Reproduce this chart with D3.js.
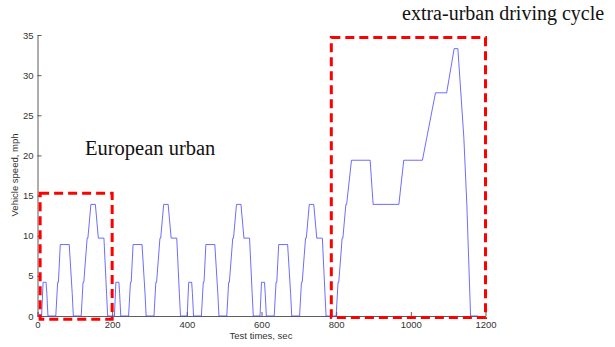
<!DOCTYPE html>
<html>
<head>
<meta charset="utf-8">
<script src="https://cdn.jsdelivr.net/npm/d3@7"></script>
<style>
  body { margin: 0; background: #fff; }
  svg { display: block; }
</style>
</head>
<body>
<svg id="chart" width="615" height="347"></svg>
<script>
// NEDC speed trace (breakpoints)
const times = [
  0, 11, 15, 23, 25, 28, 49, 54, 56, 61, 85, 93, 96, 117, 122, 124, 133, 135, 143, 155, 163, 176, 178, 185, 188, 195,
  206, 210, 218, 220, 223, 244, 249, 251, 256, 280, 288, 291, 312, 317, 319, 328, 330, 338, 350, 358, 371, 373, 380, 383, 390,
  401, 405, 413, 415, 418, 439, 444, 446, 451, 475, 483, 486, 507, 512, 514, 523, 525, 533, 545, 553, 566, 568, 575, 578, 585,
  596, 600, 608, 610, 613, 634, 639, 641, 646, 670, 678, 681, 702, 707, 709, 718, 720, 728, 740, 748, 761, 763, 770, 773, 780,
  800, 805, 807, 816, 818, 826, 828, 841, 891, 899, 968, 981, 1031, 1066, 1096, 1116, 1126, 1142, 1150, 1160, 1180
]
const speeds = [
  0, 0, 4.2, 4.2, 2.8, 0, 0, 4.2, 4.2, 8.9, 8.9, 2.8, 0, 0, 4.2, 4.2, 9.7, 9.7, 13.9, 13.9, 9.7, 9.7, 9.7, 2.8, 0, 0,
  0, 4.2, 4.2, 2.8, 0, 0, 4.2, 4.2, 8.9, 8.9, 2.8, 0, 0, 4.2, 4.2, 9.7, 9.7, 13.9, 13.9, 9.7, 9.7, 9.7, 2.8, 0, 0,
  0, 4.2, 4.2, 2.8, 0, 0, 4.2, 4.2, 8.9, 8.9, 2.8, 0, 0, 4.2, 4.2, 9.7, 9.7, 13.9, 13.9, 9.7, 9.7, 9.7, 2.8, 0, 0,
  0, 4.2, 4.2, 2.8, 0, 0, 4.2, 4.2, 8.9, 8.9, 2.8, 0, 0, 4.2, 4.2, 9.7, 9.7, 13.9, 13.9, 9.7, 9.7, 9.7, 2.8, 0, 0,
  0, 4.2, 4.2, 9.7, 9.7, 13.9, 13.9, 19.4, 19.4, 13.9, 13.9, 19.4, 19.4, 27.8, 27.8, 33.3, 33.3, 22.2, 13.9, 0, 0
]
const xTicks = [0, 200, 400, 600, 800, 1000, 1200]
const yTicks = [0, 5, 10, 15, 20, 25, 30, 35]
// annotation boxes in data units: [t0, t1, v0, v1]
const boxUrban = [7, 200, -0.4, 15.3]
const boxExtra = [787, 1200, -0.2, 34.7]

const svg = d3.select('#chart')
const x = d3.scaleLinear().domain([0, 1200]).range([37.5, 485.5])
const y = d3.scaleLinear().domain([0, 35]).range([316, 35])

const pts = times.map(function (t, i) { return [t, speeds[i]] })
const sans = 'Liberation Sans, Arial, sans-serif'

// axes (MATLAB style, ticks inward)
const xAxis = d3.axisBottom(x).tickValues(xTicks).tickFormat(d3.format('d')).tickSizeInner(-4).tickSizeOuter(0).tickPadding(5)
const yAxis = d3.axisLeft(y).tickValues(yTicks).tickFormat(d3.format('d')).tickSizeInner(-4).tickSizeOuter(0).tickPadding(4)

const gx = svg.append('g').attr('transform', 'translate(0,' + y(0) + ')').call(xAxis)
const gy = svg.append('g').attr('transform', 'translate(' + x(0) + ',0)').call(yAxis)
;[gx, gy].forEach(function (g) {
  g.selectAll('path,line').attr('stroke', '#333').attr('stroke-width', 0.8)
  g.selectAll('text').attr('fill', '#333').attr('font-family', sans).attr('font-size', '9.5px')
})

svg.append('path').datum(pts)
  .attr('fill', 'none').attr('stroke', '#4848ff').attr('stroke-width', 0.8)
  .attr('d', d3.line().x(function (d) { return x(d[0]) }).y(function (d) { return y(d[1]) }))

;[boxUrban, boxExtra].forEach(function (b) {
  svg.append('rect')
    .attr('x', x(b[0])).attr('y', y(b[3]))
    .attr('width', x(b[1]) - x(b[0])).attr('height', y(b[2]) - y(b[3]))
    .attr('fill', 'none').attr('stroke', '#ff0000').attr('stroke-width', 3)
    .attr('stroke-dasharray', '9,5')
})

svg.append('text').attr('x', 261).attr('y', 339).attr('text-anchor', 'middle')
  .attr('font-family', sans).attr('font-size', '9.5px').attr('fill', '#333')
  .text('Test times, sec')
svg.append('text').attr('transform', 'translate(18,175) rotate(-90)').attr('text-anchor', 'middle')
  .attr('font-family', sans).attr('font-size', '9.5px').attr('fill', '#333')
  .text('Vehicle speed, mph')

svg.append('text').attr('x', 85).attr('y', 155)
  .attr('font-family', 'Liberation Serif, Times New Roman, serif').attr('font-size', '20.5px').attr('fill', '#111')
  .text('European urban')
svg.append('text').attr('x', 402).attr('y', 20)
  .attr('font-family', 'Liberation Serif, Times New Roman, serif').attr('font-size', '20px').attr('fill', '#111')
  .text('extra-urban driving cycle')
</script>
</body>
</html>
